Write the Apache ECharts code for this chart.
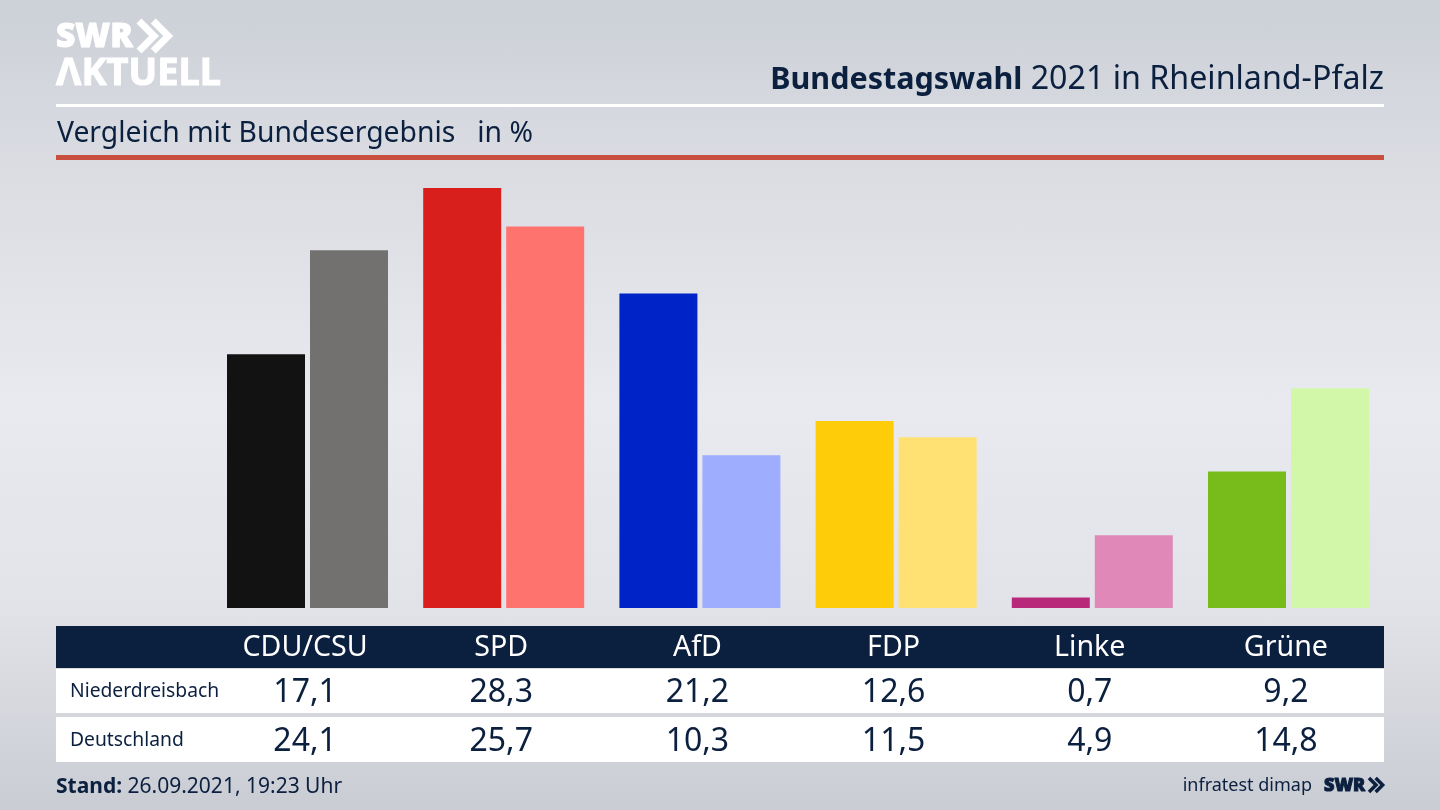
<!DOCTYPE html>
<html>
<head>
<meta charset="utf-8">
<style>
html, body { margin: 0; padding: 0; width: 1440px; height: 810px; overflow: hidden; }
body { background: linear-gradient(180deg, #ccd0d7 0%, #dadce2 20%, #e9eaef 50%, #e2e3e8 75%, #c9ccd3 100%); }
#chart { width: 1440px; height: 810px; }
</style>
</head>
<body>
<div id="chart"></div>
<script src="https://cdn.jsdelivr.net/npm/echarts@6/dist/echarts.min.js"></script>
<script>
var parties = ['CDU/CSU', 'SPD', 'AfD', 'FDP', 'Linke', 'Grüne'];
var rowNames = ['Niederdreisbach', 'Deutschland'];
var niederdreisbach = [17.1, 28.3, 21.2, 12.6, 0.7, 9.2];
var deutschland = [24.1, 25.7, 10.3, 11.5, 4.9, 14.8];
var darkColors = ['#121212', '#d81f1c', '#0023c8', '#ffcc0a', '#b9297a', '#78bc1c'];
var lightColors = ['#72716f', '#ff736f', '#9fadff', '#ffe072', '#e088b8', '#d3f7a8'];

var navy = '#0b1f3f';
var font = '"Noto Sans", sans-serif';

function comma(v) {
    return v.toFixed(1).replace('.', ',');
}

function colored(values, colors) {
    return values.map(function (v, i) {
        return { value: v, itemStyle: { color: colors[i] } };
    });
}

// eine Zeile der Tabelle: schmales Grid, nur die Achsenbeschriftung ist sichtbar
function rowAxis(idx, labels, size, color) {
    return {
        type: 'category',
        gridIndex: idx,
        data: labels,
        position: 'bottom',
        axisLine: { show: false },
        axisTick: { show: false },
        axisLabel: {
            interval: 0,
            margin: 0,
            verticalAlign: 'middle',
            fontFamily: font,
            fontSize: size,
            color: color
        }
    };
}

function hiddenY(idx) {
    return { type: 'value', gridIndex: idx, show: false, min: 0, max: 30, splitLine: { show: false } };
}

function rect(x, y, w, h, fill) {
    return { type: 'rect', z: -1, shape: { x: x, y: y, width: w, height: h }, style: { fill: fill } };
}

function text(opt) {
    return { type: 'text', z: 5, x: opt.x, y: opt.y, style: {
        text: opt.text,
        fontFamily: font,
        fontSize: opt.size,
        fontWeight: opt.weight || 'normal',
        fill: opt.fill || navy,
        stroke: opt.stroke,
        lineWidth: opt.stroke ? 1 : 0,
        align: opt.align || 'left',
        verticalAlign: 'middle',
        rich: opt.rich
    } };
}

function chevrons(x, y, h, color, lw) {
    var d = h / 2;
    return [0, 1].map(function (n) {
        var ox = x + n * d * 0.95;
        return { type: 'polyline', z: 5, shape: { points: [[ox, y], [ox + d, y + d], [ox, y + h]] },
            style: { stroke: color, lineWidth: lw, fill: null } };
    });
}

var chart = echarts.init(document.getElementById('chart'));
chart.setOption({
    animation: false,
    grid: [
        { left: 209.4, width: 1177.2, top: 162.8, height: 445.2 },
        { left: 207, width: 1177, top: 647, height: 1 },
        { left: 207, width: 1177, top: 692, height: 1 },
        { left: 207, width: 1177, top: 741, height: 1 }
    ],
    xAxis: [
        { type: 'category', gridIndex: 0, data: parties, show: false },
        rowAxis(1, parties, 28.6, '#ffffff'),
        rowAxis(2, niederdreisbach.map(comma), 32, navy),
        rowAxis(3, deutschland.map(comma), 32, navy)
    ],
    yAxis: [hiddenY(0), hiddenY(1), hiddenY(2), hiddenY(3)],
    series: [
        { name: rowNames[0], type: 'bar', barWidth: 78, barGap: '6.4%', data: colored(niederdreisbach, darkColors) },
        { name: rowNames[1], type: 'bar', barWidth: 78, barGap: '6.4%', data: colored(deutschland, lightColors) }
    ],
    graphic: [
        rect(56, 104, 1328, 3, '#ffffff'),
        rect(56, 155, 1328, 5, '#c9503f'),
        rect(56, 626, 1328, 42, navy),
        rect(56, 669, 1328, 44, '#ffffff'),
        rect(56, 717, 1328, 45, '#ffffff'),
        text({ x: 56, y: 37, text: 'SWR', size: 33.5, weight: 900, fill: '#ffffff', stroke: '#ffffff' }),
        text({ x: 56, y: 74, text: 'ΛKTUELL', size: 38, weight: 700, fill: '#ffffff', stroke: '#ffffff' }),
        text({ x: 1384, y: 80, text: '{b|Bundestagswahl} 2021 in Rheinland-Pfalz', size: 32.2, align: 'right',
            rich: { b: { fontFamily: font, fontSize: 30.5, fontWeight: 'bold', fill: navy } } }),
        text({ x: 57, y: 134, text: 'Vergleich mit Bundesergebnis   in %', size: 28.3 }),
        text({ x: 70, y: 692, text: rowNames[0], size: 19.3 }),
        text({ x: 70, y: 741, text: rowNames[1], size: 19.3 }),
        text({ x: 56, y: 787, text: '{b|Stand:} 26.09.2021, 19:23 Uhr', size: 21,
            rich: { b: { fontFamily: font, fontSize: 21, fontWeight: 'bold', fill: navy } } }),
        text({ x: 1312, y: 786, text: 'infratest dimap', size: 18, align: 'right' }),
        text({ x: 1324, y: 786, text: 'SWR', size: 18, weight: 900, stroke: navy })
    ].concat(chevrons(139, 21, 30, '#ffffff', 7)).concat(chevrons(1369, 778, 14, navy, 3.5))
});
</script>
</body>
</html>
